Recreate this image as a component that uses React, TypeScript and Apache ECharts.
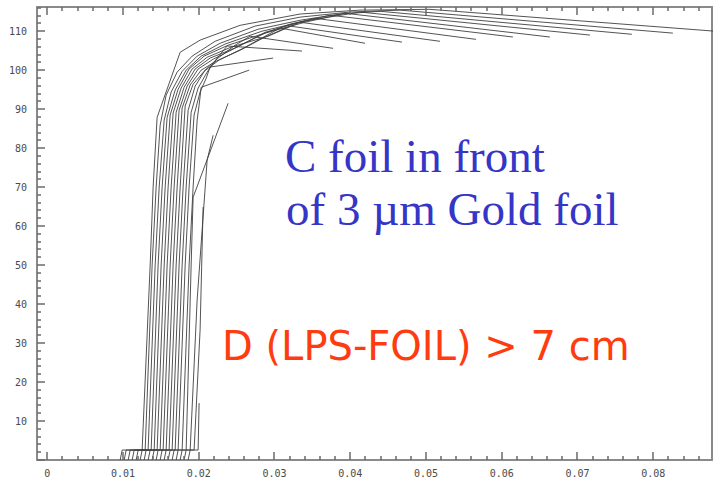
import React, { useEffect, useRef } from "react";
import * as echarts from "echarts";

// Plot frame ranges (the frame sits slightly left of x = 0)
const X_MIN = -0.00135;
const X_MAX = 0.08776;
const Y_MIN = 0;
const Y_MAX = 116.2;

// Labelled ticks
const xMajorTicks = [0, 0.01, 0.02, 0.03, 0.04, 0.05, 0.06, 0.07, 0.08];
const xTickLabels = ["0", "0.01", "0.02", "0.03", "0.04", "0.05", "0.06", "0.07", "0.08"];
const yMajorTicks = [10, 20, 30, 40, 50, 60, 70, 80, 90, 100, 110];
const yTickLabels = ["10", "20", "30", "40", "50", "60", "70", "80", "90", "100", "110"];

// Simulated particle trajectories: [x, y] points, outer (left) to inner (right)
const track01 = [[0.00963, 0], [0.00989, 2.56], [0.01253, 2.56], [0.01359, 50.0], [0.01398, 70.0], [0.01451, 87.9], [0.01755, 104.6], [0.02018, 107.7], [0.02546, 111.5], [0.03338, 114.4], [0.04129, 115.4], [0.05053, 115.6], [0.09011, 109.7]];
const track02 = [[0.01016, 0], [0.01042, 2.56], [0.01293, 2.56], [0.01385, 50.0], [0.01438, 70.0], [0.01491, 85.9], [0.0157, 93.6], [0.01715, 99.5], [0.01913, 103.6], [0.02216, 107.4], [0.02744, 111.3], [0.03338, 113.6], [0.03997, 114.9], [0.04657, 115.4], [0.08259, 109.5]];
const track03 = [[0.01069, 0], [0.01095, 2.56], [0.01332, 2.56], [0.01425, 50.0], [0.01478, 70.0], [0.01544, 87.2], [0.01636, 94.4], [0.01781, 99.7], [0.01979, 103.6], [0.02282, 106.9], [0.02784, 110.5], [0.03338, 112.8], [0.03865, 114.4], [0.04393, 115.1], [0.07718, 109.2]];
const track04 = [[0.01121, 0], [0.01148, 2.56], [0.01372, 2.56], [0.01464, 50.0], [0.01517, 70.0], [0.01583, 87.9], [0.01689, 94.9], [0.01834, 100.0], [0.02032, 103.6], [0.02348, 106.7], [0.02836, 110.0], [0.03404, 112.6], [0.04129, 114.9], [0.07164, 109.0]];
const track05 = [[0.01174, 0], [0.01201, 2.56], [0.01412, 2.56], [0.01504, 50.0], [0.01557, 70.0], [0.01623, 88.5], [0.01728, 95.1], [0.01873, 100.3], [0.02071, 103.6], [0.02388, 106.4], [0.02876, 109.5], [0.03404, 112.3], [0.03931, 114.6], [0.06636, 108.5]];
const track06 = [[0.01227, 0], [0.01253, 2.56], [0.01451, 2.56], [0.01544, 50.0], [0.01596, 70.0], [0.01662, 89.0], [0.01768, 95.4], [0.01913, 100.3], [0.02111, 103.3], [0.02427, 105.9], [0.02916, 108.7], [0.03338, 112.3], [0.03734, 114.1], [0.06148, 108.5]];
const track07 = [[0.0128, 0], [0.01306, 2.56], [0.01491, 2.56], [0.01583, 50.0], [0.01636, 70.0], [0.01702, 89.2], [0.01807, 95.6], [0.01953, 100.3], [0.0215, 103.1], [0.02467, 105.6], [0.02876, 109.5], [0.03206, 111.8], [0.03536, 113.3], [0.0566, 107.9]];
const track08 = [[0.01332, 0], [0.01359, 2.56], [0.0153, 2.56], [0.01623, 50.0], [0.01675, 70.0], [0.01741, 89.7], [0.01847, 95.9], [0.01992, 100.3], [0.0219, 102.8], [0.02507, 105.9], [0.02876, 109.7], [0.03338, 112.3], [0.05185, 107.4]];
const track09 = [[0.01385, 0], [0.01412, 2.56], [0.0157, 2.56], [0.01662, 50.0], [0.01715, 70.0], [0.01781, 90.3], [0.01887, 96.2], [0.02032, 100.0], [0.0223, 102.3], [0.02546, 105.1], [0.02876, 108.5], [0.03206, 111.3], [0.04683, 107.2]];
const track10 = [[0.01438, 0], [0.01464, 2.56], [0.01609, 2.56], [0.01702, 50.0], [0.01755, 70.0], [0.01821, 90.8], [0.01926, 96.4], [0.02071, 99.7], [0.02269, 102.6], [0.02586, 105.6], [0.02876, 108.7], [0.03074, 110.8], [0.04195, 106.9]];
const track11 = [[0.01491, 0], [0.01517, 2.56], [0.01649, 2.56], [0.01741, 50.0], [0.01794, 70.0], [0.0186, 89.7], [0.01953, 95.9], [0.02084, 100.0], [0.02256, 103.1], [0.0248, 106.4], [0.02678, 108.7], [0.03773, 105.6]];
const track12 = [[0.01544, 0], [0.0157, 2.56], [0.01689, 2.56], [0.01781, 50.0], [0.01834, 70.0], [0.019, 89.2], [0.01992, 95.4], [0.02111, 99.5], [0.02243, 103.1], [0.02375, 106.2], [0.03364, 104.9]];
const track13 = [[0.01596, 0], [0.01623, 2.56], [0.01728, 2.56], [0.01821, 50.0], [0.01873, 70.0], [0.01939, 88.5], [0.02018, 94.4], [0.02098, 97.9], [0.0215, 100.8], [0.02982, 103.1]];
const track14 = [[0.01649, 0], [0.01675, 2.56], [0.01781, 2.56], [0.01873, 50.0], [0.01926, 70.0], [0.01979, 87.2], [0.02005, 91.0], [0.02032, 95.6], [0.02665, 100.0]];
const track15 = [[0.01702, 0], [0.01728, 2.56], [0.01834, 2.56], [0.019, 50.0], [0.01926, 67.4], [0.02388, 91.5]];
const track16 = [[0.01755, 0], [0.01781, 2.56], [0.01887, 2.56], [0.01979, 41.0], [0.02111, 76.9], [0.0219, 83.3]];
const track17 = [[0.01807, 0], [0.01834, 2.56], [0.01939, 2.56], [0.02018, 33.3], [0.02058, 64.9]];
const track18 = [[0.0186, 0], [0.01887, 2.56], [0.01992, 2.56], [0.02005, 14.6]];

const tracks = [
  track01, track02, track03, track04, track05, track06, track07, track08, track09,
  track10, track11, track12, track13, track14, track15, track16, track17, track18,
];

const titleLines = ["C foil in front", "of 3 µm Gold foil"];
const distanceNote = "D (LPS-FOIL) > 7 cm";

// Minor tick marks: every fifth of a labelled step
function minorSteps(from: number, to: number, step: number, major: number): number[] {
  const out: number[] = [];
  for (let v = from; v <= to + 1e-9; v += step) {
    const r = Math.round(v * 100000) / 100000;
    if (Math.abs(r / major - Math.round(r / major)) > 1e-6) out.push(r);
  }
  return out;
}
const xMinorTicks = minorSteps(0.002, 0.086, 0.002, 0.01);
const yMinorTicks = minorSteps(2, 116, 2, 10);
const yAllMajor = [0, ...yMajorTicks];

const FRAME = "#8a8a8a";
const TICK = "#6a6a6a";
const MONO = "'DejaVu Sans Mono', 'Liberation Mono', monospace";

function frameAxis(position: string, min: number, max: number, labels: { values: number[]; text: string[] } | null, margin: number) {
  return {
    type: "value",
    position,
    min,
    max,
    splitLine: { show: false },
    axisLine: { show: true, onZero: false, lineStyle: { color: FRAME, width: 2 } },
    axisTick: { show: false },
    axisLabel: labels
      ? {
          show: true,
          customValues: labels.values,
          margin,
          fontFamily: MONO,
          fontSize: 10,
          color: "#4a4a4a",
          formatter: (v: number) => {
            const i = labels.values.findIndex((t) => Math.abs(t - v) < 1e-9);
            return i >= 0 ? labels.text[i] : "";
          },
        }
      : { show: false },
  };
}

// Inward tick marks on the bottom and top frame lines
function xTickSeries(values: number[], len: number) {
  return {
    type: "custom",
    silent: true,
    clip: false,
    z: 5,
    data: values.map((v) => [v, Y_MIN]),
    renderItem: (_p: any, api: any) => {
      const v = api.value(0);
      const b = api.coord([v, Y_MIN]);
      const t = api.coord([v, Y_MAX]);
      const x = Math.round(b[0]);
      const style = { stroke: TICK, lineWidth: 1.5, fill: null };
      return {
        type: "group",
        children: [
          { type: "line", shape: { x1: x, y1: b[1], x2: x, y2: b[1] - len }, style },
          { type: "line", shape: { x1: x, y1: t[1], x2: x, y2: t[1] + len }, style },
        ],
      };
    },
  };
}

// Inward tick marks on the left frame line
function yTickSeries(values: number[], len: number) {
  return {
    type: "custom",
    silent: true,
    clip: false,
    z: 5,
    data: values.map((v) => [X_MIN, v]),
    renderItem: (_p: any, api: any) => {
      const p = api.coord([X_MIN, api.value(1)]);
      const y = Math.round(p[1]);
      return {
        type: "line",
        shape: { x1: p[0], y1: y, x2: p[0] + len, y2: y },
        style: { stroke: TICK, lineWidth: 1.5, fill: null },
      };
    },
  };
}

export default function App() {
  const ref = useRef<HTMLDivElement>(null);

  useEffect(() => {
    if (!ref.current) return;
    const chart = echarts.init(ref.current, null, { renderer: "svg" });

    chart.setOption({
      animation: false,
      backgroundColor: "#ffffff",
      grid: { left: 37, right: 1, top: 7, bottom: 18, containLabel: false, outerBoundsMode: "none" },
      xAxis: [
        frameAxis("bottom", X_MIN, X_MAX, { values: xMajorTicks, text: xTickLabels }, 8),
        frameAxis("top", X_MIN, X_MAX, null, 0),
      ],
      yAxis: [
        frameAxis("left", Y_MIN, Y_MAX, { values: yMajorTicks, text: yTickLabels }, 10),
        frameAxis("right", Y_MIN, Y_MAX, null, 0),
      ],
      series: [
        ...tracks.map((t) => ({
          type: "line",
          data: t,
          symbol: "none",
          silent: true,
          clip: true,
          lineStyle: { color: "#404040", width: 0.9 },
        })),
        xTickSeries(xMajorTicks, 8),
        xTickSeries(xMinorTicks, 4),
        yTickSeries(yAllMajor, 8),
        yTickSeries(yMinorTicks, 4),
      ],
      graphic: [
        {
          type: "text",
          left: 285,
          top: 132,
          silent: true,
          style: {
            text: titleLines[0],
            font: "47px 'Liberation Serif', 'Times New Roman', serif",
            fill: "#3535c6",
          },
        },
        {
          type: "text",
          left: 286,
          top: 185,
          silent: true,
          style: {
            text: titleLines[1],
            font: "47px 'Liberation Serif', 'Times New Roman', serif",
            fill: "#3535c6",
          },
        },
        {
          type: "text",
          left: 222,
          top: 326,
          silent: true,
          style: {
            text: distanceNote,
            font: "40px 'DejaVu Sans', 'Noto Sans', sans-serif",
            fill: "#ff3c10",
          },
        },
      ],
    });

    return () => chart.dispose();
  }, []);

  return (
    <div
      ref={ref}
      style={{ position: "fixed", left: 0, top: 0, width: 713, height: 478, background: "#fff" }}
    />
  );
}
